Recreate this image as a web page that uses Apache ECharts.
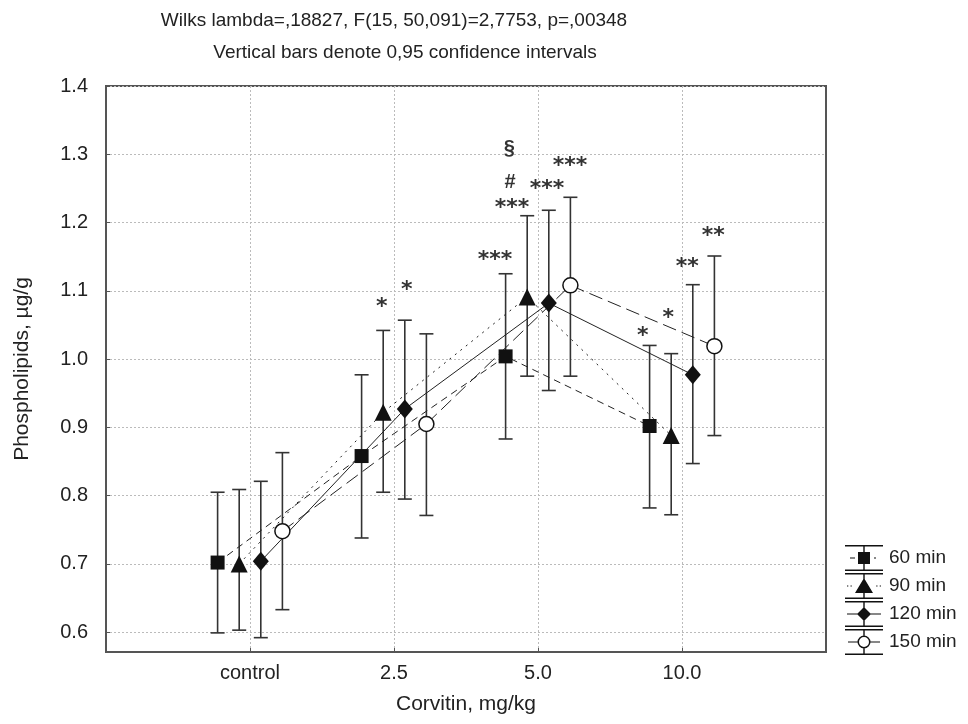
<!DOCTYPE html>
<html>
<head>
<meta charset="utf-8">
<script src="https://cdn.jsdelivr.net/npm/echarts@6/dist/echarts.min.js"></script>
<style>
html, body { margin: 0; background: #fff; }
#chart { width: 968px; height: 724px; }
</style>
</head>
<body>
<div id="chart"></div>
<script>
var categories = ['control', '2.5', '5.0', '10.0'];
var seriesNames = ['60 min', '90 min', '120 min', '150 min'];
var yTicks = [0.6, 0.7, 0.8, 0.9, 1.0, 1.1, 1.2, 1.3, 1.4];

// means and 0.95 confidence limits
var mean60 = [0.702, 0.858, 1.004, 0.902];
var low60 = [0.599, 0.738, 0.883, 0.782];
var high60 = [0.805, 0.977, 1.125, 1.020];

var mean90 = [0.700, 0.922, 1.091, 0.888];
var low90 = [0.603, 0.805, 0.975, 0.772];
var high90 = [0.809, 1.042, 1.210, 1.008];

var mean120 = [0.704, 0.927, 1.082, 0.977];
var low120 = [0.592, 0.795, 0.954, 0.847];
var high120 = [0.821, 1.057, 1.218, 1.109];

var mean150 = [0.748, 0.905, 1.108, 1.019];
var low150 = [0.633, 0.771, 0.975, 0.888];
var high150 = [0.863, 1.037, 1.237, 1.151];

// significance marks: [x on group scale, y value, text]
var notes = [
	[1.915, 1.084, '*'],
	[2.088, 1.109, '*'],
	[2.701, 1.153, '***'],
	[2.819, 1.230, '***'],
	[2.806, 1.258, '#'],
	[2.800, 1.309, '§'],
	[3.063, 1.258, '***'],
	[3.222, 1.291, '***'],
	[3.727, 1.042, '*'],
	[3.905, 1.068, '*'],
	[4.037, 1.143, '**'],
	[4.217, 1.189, '**']
];

var offsets = [-0.225, -0.075, 0.075, 0.225];
var means = [mean60, mean90, mean120, mean150];
var lows = [low60, low90, low120, low150];
var highs = [high60, high90, high120, high150];
var symbols = ['rect', 'triangle', 'diamond', 'circle'];
var symbolSizes = [14, 17, [16, 19], 15];
var dashes = [[7, 5], [2, 5], 'solid', [14, 6]];

// legend icons: error bar with the marker and a stub of the line
var capPath = 'M1 0H39V1.6H1Z M1 24.4H39V26H1Z ';
var legendIcons = [
	capPath + 'M19.3 0H20.7V26H19.3Z M14 7H26V19H14Z M6 12.4H11V13.6H6Z M30 12.4H32V13.6H30Z',
	capPath + 'M19.3 0H20.7V26H19.3Z M20 5L29 20H11Z M3 12.4H4.3V13.6H3Z M6.5 12.4H7.8V13.6H6.5Z M32.2 12.4H33.5V13.6H32.2Z M35.7 12.4H37V13.6H35.7Z',
	capPath + 'M19.3 0H20.7V26H19.3Z M20 6L27 13L20 20L13 13Z M3 12.4H14V13.6H3Z M26 12.4H37V13.6H26Z',
	capPath + 'M19.3 0H20.7V6.6H19.3Z M19.3 19.4H20.7V26H19.3Z M20 6.5A6.5 6.5 0 1 1 20 19.5A6.5 6.5 0 1 1 20 6.5Z M20 8A5 5 0 1 0 20 18A5 5 0 1 0 20 8Z M4 12.4H13.6V13.6H4Z M26.4 12.4H36V13.6H26.4Z'
];

var series = [];
means.forEach(function (m, k) {
	var bars = m.map(function (v, i) {
		return [i + 1 + offsets[k], lows[k][i], highs[k][i]];
	});
	series.push({
		name: seriesNames[k] + ' CI',
		type: 'custom',
		z: 1,
		silent: true,
		data: bars,
		renderItem: function (params, api) {
			var x = api.value(0);
			var lo = api.coord([x, api.value(1)]);
			var hi = api.coord([x, api.value(2)]);
			var w = 7;
			var st = { stroke: '#333', lineWidth: 1.6 };
			return {
				type: 'group',
				children: [
					{ type: 'line', shape: { x1: lo[0], y1: lo[1], x2: hi[0], y2: hi[1] }, style: st },
					{ type: 'line', shape: { x1: lo[0] - w, y1: lo[1], x2: lo[0] + w, y2: lo[1] }, style: st },
					{ type: 'line', shape: { x1: hi[0] - w, y1: hi[1], x2: hi[0] + w, y2: hi[1] }, style: st }
				]
			};
		}
	});
});
means.forEach(function (m, k) {
	series.push({
		name: seriesNames[k],
		type: 'line',
		z: 3,
		data: m.map(function (v, i) { return [i + 1 + offsets[k], v]; }),
		symbol: symbols[k],
		symbolSize: symbolSizes[k],
		showAllSymbol: true,
		lineStyle: { color: '#222', width: 1, type: dashes[k] },
		itemStyle: k === 3
			? { color: '#fff', borderColor: '#111', borderWidth: 1.5 }
			: { color: '#111', borderColor: '#111', borderWidth: 0 },
		emphasis: { disabled: true }
	});
});
series.push({
	name: 'notes',
	type: 'custom',
	z: 4,
	silent: true,
	data: notes,
	renderItem: function (params, api) {
		var p = api.coord([api.value(0), api.value(1)]);
		var txt = notes[params.dataIndex][2];
		var star = txt.charAt(0) === '*';
		return {
			type: 'text',
			x: p[0],
			y: p[1] + (star ? 6 : 0),
			style: {
				text: txt,
				font: star ? 'bold 22px "DejaVu Sans"' : 'bold 20px "Liberation Sans"',
				fill: '#333',
				align: 'center',
				verticalAlign: 'middle'
			}
		};
	}
});

var chart = echarts.init(document.getElementById('chart'), null, { renderer: 'canvas' });
chart.setOption({
	animation: false,
	backgroundColor: '#fff',
	textStyle: { fontFamily: '"Liberation Sans", Arial, sans-serif' },
	title: [{
		text: 'Wilks lambda=,18827, F(15, 50,091)=2,7753, p=,00348',
		left: 394,
		top: 9,
		padding: 0,
		textAlign: 'center',
		textStyle: { fontSize: 19, fontWeight: 'normal', color: '#222', lineHeight: 24 }
	}, {
		text: 'Vertical bars denote 0,95 confidence intervals',
		left: 405,
		top: 41,
		padding: 0,
		textAlign: 'center',
		textStyle: { fontSize: 19, fontWeight: 'normal', color: '#222', lineHeight: 24 }
	}],
	legend: {
		data: seriesNames.map(function (n, k) {
			return { name: n, icon: 'path://' + legendIcons[k], itemStyle: { color: '#111', borderWidth: 0 } };
		}),
		orient: 'vertical',
		left: 845,
		top: 545,
		padding: 0,
		itemWidth: 40,
		itemHeight: 26,
		itemGap: 2,
		textStyle: { fontSize: 19, color: '#222' }
	},
	grid: {
		left: 106,
		right: 142,
		top: 86,
		bottom: 72,
		show: true,
		borderColor: '#555',
		borderWidth: 2
	},
	xAxis: {
		type: 'value',
		min: 0,
		max: 5,
		name: 'Corvitin, mg/kg',
		nameLocation: 'middle',
		nameGap: 42,
		nameTextStyle: { fontSize: 21, color: '#222' },
		axisLine: { lineStyle: { color: '#555', width: 2 } },
		axisTick: { show: true, inside: true, length: 4, customValues: [1, 2, 3, 4], lineStyle: { color: '#555' } },
		axisLabel: {
			customValues: [1, 2, 3, 4],
			fontSize: 20,
			color: '#222',
			margin: 11,
			formatter: function (v) { return categories[Math.round(v) - 1] || ''; }
		},
		splitLine: { show: true, lineStyle: { color: '#bbb', type: [2, 2], width: 1 } }
	},
	yAxis: {
		type: 'value',
		min: 0.571,
		max: 1.4,
		name: 'Phospholipids, µg/g',
		nameLocation: 'middle',
		nameGap: 73,
		nameTextStyle: { fontSize: 21, color: '#222' },
		axisLine: { show: true, lineStyle: { color: '#555', width: 2 } },
		axisTick: { show: true, inside: true, length: 4, customValues: yTicks, lineStyle: { color: '#555' } },
		axisLabel: {
			customValues: yTicks,
			fontSize: 20,
			color: '#222',
			margin: 18,
			formatter: function (v) { return v.toFixed(1); }
		},
		splitLine: { show: true, lineStyle: { color: '#bbb', type: [2, 2], width: 1 } }
	},
	series: series
});
</script>
</body>
</html>
